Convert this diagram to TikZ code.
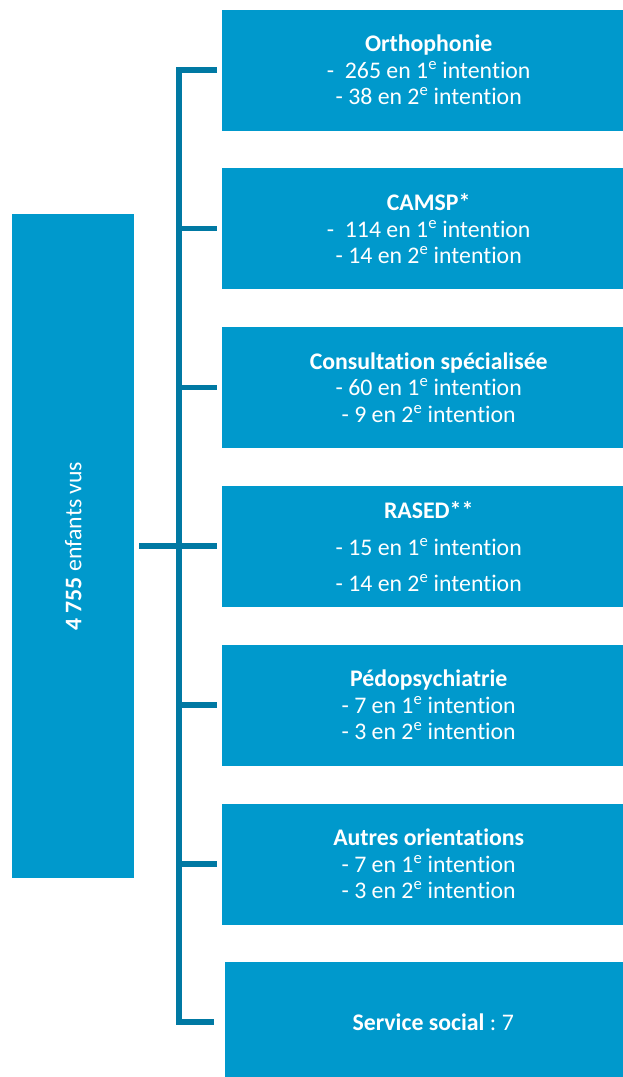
\documentclass[tikz,border=0pt]{standalone}
\usepackage{fontspec}
\setmainfont[Ligatures={NoCommon}]{Carlito}
\definecolor{boxblue}{HTML}{0099CC}
\definecolor{lineblue}{HTML}{0079A3}
\begin{document}
\frenchspacing
\begin{tikzpicture}[x=1pt,y=-1pt,
  box/.style={fill=boxblue, draw=none, text=white, align=center, anchor=north west,
    minimum width=413pt, minimum height=121pt, inner sep=0pt,
    font=\fontsize{23.8}{26.5}\selectfont},
  conn/.style={draw=lineblue, line width=5.5pt, line join=miter}]
\useasboundingbox (0,0) rectangle (623,1077);
\node[box, minimum width=122pt, minimum height=664pt] (L) at (12,214) {};
\node[text=white, rotate=90, font=\fontsize{23.8}{26.5}\selectfont] (Lt) at (L.center) {\textbf{4 755} enfants vus};
\node[box] (b1) at (222,9.5) {\textbf{Orthophonie}\\-\ \ 265 en 1\textsuperscript{e} intention\\- 38 en 2\textsuperscript{e} intention};
\node[box] (b2) at (222,168) {\textbf{CAMSP*}\\-\ \ 114 en 1\textsuperscript{e} intention\\- 14 en 2\textsuperscript{e} intention};
\node[box] (b3) at (222,327) {\textbf{Consultation spécialisée}\\- 60 en 1\textsuperscript{e} intention\\- 9 en 2\textsuperscript{e} intention};
\node[box] (b4) at (222,486) {\textbf{RASED**}\\[10pt]- 15 en 1\textsuperscript{e} intention\\[10pt]- 14 en 2\textsuperscript{e} intention};
\node[box] (b5) at (222,644.5) {\textbf{Pédopsychiatrie}\\- 7 en 1\textsuperscript{e} intention\\- 3 en 2\textsuperscript{e} intention};
\node[box] (b6) at (222,803.5) {\textbf{Autres orientations}\\- 7 en 1\textsuperscript{e} intention\\- 3 en 2\textsuperscript{e} intention};
\node[box, minimum width=416pt, minimum height=120pt] (b7) at (225,962) {\textbf{Service social} : 7};
\coordinate (sp) at (179,0);
\draw[conn, shorten >=5pt] (b1.west) ++(-5,0) -- (sp |- b1.west) -- (sp |- b7.west) -- ([xshift=-6pt]b7.west);
\foreach \b in {b2,b3,b5,b6}
  \draw[conn, shorten >=5pt] (sp |- \b.west) -- (\b.west);
\draw[conn, shorten <=5pt, shorten >=5pt] (L.east) -- (L.east -| b4.west);
\end{tikzpicture}
\end{document}
